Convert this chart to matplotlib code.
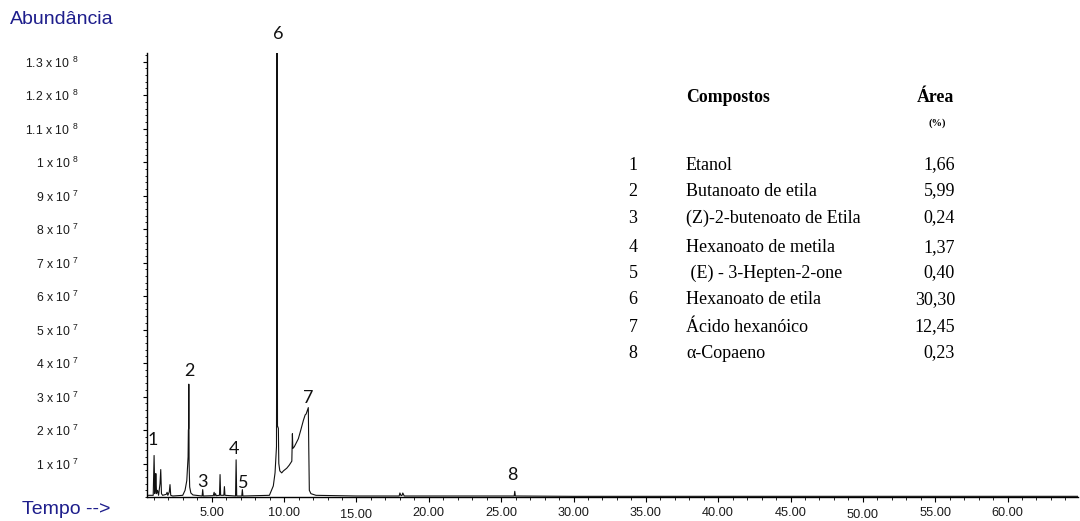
import numpy as np
import matplotlib.pyplot as plt
from matplotlib.ticker import FixedLocator, MultipleLocator
from matplotlib.transforms import ScaledTranslation

# chromatogram trace: retention time (min) and abundance (x 1e7 counts)
rt = [0.52, 0.95, 1.01, 1.06, 1.10, 1.13, 1.18, 1.25, 1.32, 1.42, 1.47, 1.52, 1.60,
      1.85, 1.91, 1.96, 2.06, 2.11, 2.16, 2.30, 2.99, 3.15, 3.27, 3.36, 3.38, 3.40,
      3.41, 3.43, 3.47, 3.55, 3.70, 4.33, 4.37, 4.41, 5.10, 5.16, 5.20, 5.26, 5.30,
      5.53, 5.57, 5.61, 5.83, 5.87, 5.91, 6.64, 6.68, 6.72, 7.07, 7.11, 7.15, 8.98,
      9.25, 9.37, 9.47, 9.51, 9.54, 9.56, 9.60, 9.63, 9.70, 9.83, 9.95, 10.18, 10.35,
      10.53, 10.57, 10.60, 10.70, 10.98, 11.15, 11.33, 11.45, 11.52, 11.67, 11.70,
      11.74, 11.85, 12.20, 15.00, 17.95, 18.00, 18.08, 18.15, 18.20, 18.30, 22.0,
      25.90, 25.94, 25.98, 30.0, 64.87]
abund = [0.05, 0.05, 1.24, 0.10, 0.30, 0.70, 0.10, 0.20, 0.05, 0.40, 0.82, 0.10, 0.05,
         0.08, 0.14, 0.05, 0.15, 0.37, 0.05, 0.03, 0.05, 0.20, 0.49, 1.20, 2.00, 2.05,
         3.37, 1.00, 0.30, 0.12, 0.06, 0.03, 0.22, 0.03, 0.04, 0.14, 0.04, 0.10, 0.04,
         0.05, 0.67, 0.05, 0.05, 0.31, 0.05, 0.03, 1.11, 0.03, 0.03, 0.22, 0.03, 0.05,
         0.33, 0.72, 1.50, 13.26, 2.10, 2.10, 2.05, 1.00, 0.78, 0.72, 0.78, 0.86, 0.95,
         1.07, 1.89, 1.45, 1.50, 1.74, 2.00, 2.29, 2.45, 2.48, 2.67, 1.50,
         0.20, 0.10, 0.05, 0.03, 0.03, 0.12, 0.04, 0.05, 0.12, 0.03, 0.03,
         0.03, 0.17, 0.03, 0.02, 0.02]

peak_ids = ["1", "2", "3", "4", "5", "6", "7", "8"]
peak_rt = [1.01, 3.41, 4.37, 6.68, 7.11, 9.51, 11.67, 25.94]
peak_top = [1.24, 3.37, 0.22, 1.11, 0.22, 13.26, 2.67, 0.17]

comp_num = ["1", "2", "3", "4", "5", "6", "7", "8"]
comp_name = ["Etanol", "Butanoato de etila", "(Z)-2-butenoato de Etila",
             "Hexanoato de metila", " (E) - 3-Hepten-2-one", "Hexanoato de etila",
             "Ácido hexanóico", "α-Copaeno"]
comp_area = ["1,66", "5,99", "0,24", "1,37", "0,40", "30,30", "12,45", "0,23"]

ytick_vals = [1, 2, 3, 4, 5, 6, 7, 8, 9, 10, 11, 12, 13]
xtick_vals = [5, 10, 15, 20, 25, 30, 35, 40, 45, 50, 55, 60]
xtick_labels = ["5.00", "10.00", "15.00", "20.00", "25.00", "30.00", "35.00",
                "40.00", "45.00", "50.00", "55.00", "60.00"]

plt.rcParams['font.family'] = ['Liberation Sans', 'DejaVu Sans']
plt.rcParams['mathtext.fontset'] = 'custom'
plt.rcParams['mathtext.rm'] = 'Liberation Sans'
plt.rcParams['mathtext.it'] = 'Liberation Sans'
plt.rcParams['mathtext.bf'] = 'Liberation Sans:bold'

W, H = 1080, 521
fig = plt.figure(figsize=(W / 100, H / 100), dpi=100)
ax = fig.add_axes([147 / W, (H - 497) / H, (1078 - 147) / W, (497 - 53) / H])

ax.plot(rt, np.array(abund) * 1e7, color="#111111", lw=0.8)
ax.set_xlim(0.52, 64.87)
ax.set_ylim(0, 13.26e7)

for s in ["top", "right"]:
    ax.spines[s].set_visible(False)
ax.spines["left"].set_linewidth(1.0)
ax.spines["bottom"].set_linewidth(1.0)


def ylab(v):
    if v >= 10:
        m = f"{v / 10:g}"
        return m + " x 10 $^{8}$"
    return f"{v:g} x 10 $^{{7}}$"


ax.yaxis.set_major_locator(FixedLocator([v * 1e7 for v in ytick_vals]))
ax.set_yticklabels([ylab(v) for v in ytick_vals])
ax.yaxis.set_minor_locator(MultipleLocator(2e6))
ax.tick_params(axis="y", which="major", direction="out", length=3, width=0.8,
               pad=46, labelsize=8.8, labelcolor="#1a1a1a")
ax.tick_params(axis="y", which="minor", direction="out", length=1.6, width=0.6)
for lbl in ax.get_yticklabels():
    lbl.set_horizontalalignment("right")

ax.xaxis.set_major_locator(FixedLocator(xtick_vals))
ax.set_xticklabels(xtick_labels)
ax.xaxis.set_minor_locator(MultipleLocator(1))
ax.tick_params(axis="x", which="major", direction="out", length=3.4, width=0.8,
               pad=3.5, labelsize=9.2, labelcolor="#1a1a1a")
ax.tick_params(axis="x", which="minor", direction="out", length=1.8, width=0.6)
# a few labels sit slightly lower in the original export
for lbl in ax.get_xticklabels():
    if lbl.get_text() in ("15.00", "50.00"):
        lbl.set_transform(lbl.get_transform() + ScaledTranslation(0, -2 / 100, fig.dpi_scale_trans))

# peak numbers (offsets in pixels relative to the apex)
label_off = [(-1, 15), (1, 13), (0, 8), (-2, 11), (1, 7), (1, 19), (0, 10), (-2, 16)]
for pid, x, y, (dx, dy) in zip(peak_ids, peak_rt, peak_top, label_off):
    ax.annotate(pid, (x, y * 1e7), xytext=(dx, dy), textcoords="offset pixels",
                ha="center", va="center", fontsize=13, family="Lato",
                color="#111111", annotation_clip=False)

navy = "#1e1e8c"
fig.text(10 / W, 1 - 20 / H, "Abundância", fontsize=14, color=navy, va="center", ha="left")
fig.text(22 / W, 1 - 509 / H, "Tempo -->", fontsize=14, color=navy, va="center", ha="left")

# compound table
serif = "Liberation Serif"
fig.text(686 / W, 1 - 98 / H, "Compostos", fontsize=12.8, fontweight="bold",
         family=serif, ha="left", va="center")
fig.text(935 / W, 1 - 98 / H, "Área", fontsize=12.8, fontweight="bold",
         family=serif, ha="center", va="center")
fig.text(937 / W, 1 - 123 / H, "(%)", fontsize=7.5, fontweight="bold",
         family=serif, ha="center", va="center")
row_y = [165, 191, 218, 248, 273, 300, 327, 353]
for yy, n, name, area in zip(row_y, comp_num, comp_name, comp_area):
    fig.text(633 / W, 1 - yy / H, n, fontsize=13, family=serif, ha="center", va="center")
    fig.text(686 / W, 1 - yy / H, name, fontsize=13, family=serif, ha="left", va="center")
    fig.text(955 / W, 1 - yy / H, area, fontsize=13, family=serif, ha="right", va="center")

fig.savefig("out.png", dpi=100)
